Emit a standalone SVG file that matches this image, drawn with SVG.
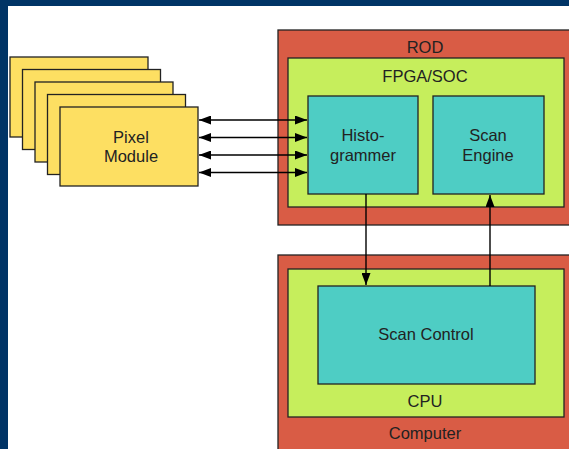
<svg xmlns="http://www.w3.org/2000/svg" width="569" height="449" viewBox="0 0 569 449">
<style>
.box{stroke:#222;stroke-width:1.3}
.red{fill:#D95C45}
.grn{fill:#C6EE5C}
.teal{fill:#4ECDC4}
.yel{fill:#FDDF62}
text{font-family:"Liberation Sans",Arial,sans-serif;font-size:16.5px;fill:#222;text-anchor:middle}
.conn{stroke:#000;stroke-width:1.4;fill:none}
</style>
<defs>
<marker id="ah" viewBox="0 0 12 9" refX="12" refY="4.5" markerWidth="12" markerHeight="9" markerUnits="userSpaceOnUse" orient="auto-start-reverse">
<path d="M0,0 L12,4.5 L0,9 z" fill="#000"/>
</marker>
</defs>
<rect x="0" y="0" width="569" height="449" fill="#003466"/>
<rect x="8" y="6" width="561" height="443" fill="#FFFFFF"/>
<g id="pixel-module">
<rect class="box yel" x="10" y="57" width="138" height="80"/>
<rect class="box yel" x="22.5" y="69.5" width="138" height="80"/>
<rect class="box yel" x="35" y="82" width="138" height="80"/>
<rect class="box yel" x="47.5" y="94.5" width="138" height="80"/>
<rect class="box yel" x="60" y="107" width="138" height="79"/>
<text x="131" y="143">Pixel</text>
<text x="131" y="162">Module</text>
</g>
<g id="rod">
<rect class="box red" x="278" y="30" width="300" height="195"/>
<text x="425" y="53">ROD</text>
</g>
<g id="fpga">
<rect class="box grn" x="288" y="58" width="276" height="149"/>
<text x="425" y="82">FPGA/SOC</text>
</g>
<g id="histogrammer">
<rect class="box teal" x="308" y="96" width="110" height="98"/>
<text x="363" y="141">Histo-</text>
<text x="363" y="161">grammer</text>
</g>
<g id="scan-engine">
<rect class="box teal" x="433" y="96" width="111" height="98"/>
<text x="488" y="141">Scan</text>
<text x="488" y="161">Engine</text>
</g>
<g id="computer">
<rect class="box red" x="278" y="255" width="300" height="200"/>
<text x="425" y="439">Computer</text>
</g>
<g id="cpu">
<rect class="box grn" x="288" y="269" width="276" height="148"/>
<text x="425" y="407">CPU</text>
</g>
<g id="scan-control">
<rect class="box teal" x="318" y="286" width="217" height="98"/>
<text x="426" y="340">Scan Control</text>
</g>
<g id="connectors">
<line class="conn" x1="199" y1="120" x2="307" y2="120" marker-start="url(#ah)" marker-end="url(#ah)"/>
<line class="conn" x1="199" y1="137.5" x2="307" y2="137.5" marker-start="url(#ah)" marker-end="url(#ah)"/>
<line class="conn" x1="199" y1="155" x2="307" y2="155" marker-start="url(#ah)" marker-end="url(#ah)"/>
<line class="conn" x1="199" y1="172.5" x2="307" y2="172.5" marker-start="url(#ah)" marker-end="url(#ah)"/>
<line class="conn" x1="366" y1="194" x2="366" y2="285" marker-end="url(#ah)"/>
<line class="conn" x1="490" y1="286" x2="490" y2="195" marker-end="url(#ah)"/>
</g>
</svg>
